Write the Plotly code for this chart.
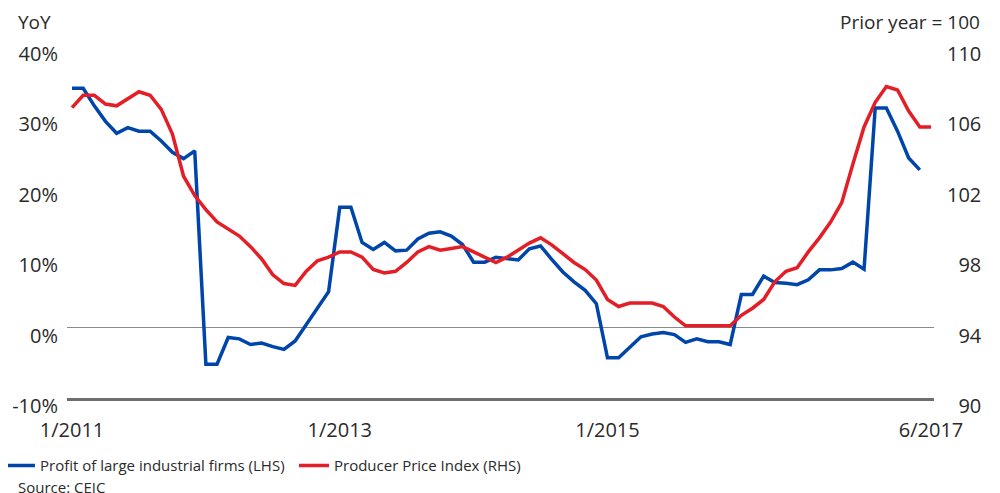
import plotly.graph_objects as go

# x categories: monthly, 1/2011 .. 6/2017
months = [f"{m}/{y}" for y in range(2011, 2018) for m in range(1, 13)][:78]

# Profit of large industrial firms, YoY % (LHS) -- ends 5/2017
profit = [34.0, 34.0, 31.5, 29.3, 27.6, 28.4, 27.9, 27.9, 26.5, 24.9, 24.0, 25.1,
          -5.2, -5.2, -1.4, -1.6, -2.4, -2.2, -2.7, -3.1, -1.9, 0.4, 2.9, 5.1,
          17.1, 17.1, 12.1, 11.1, 12.1, 10.9, 11.0, 12.6, 13.4, 13.6, 13.0, 11.8,
          9.3, 9.3, 10.0, 9.8, 9.6, 11.2, 11.6, 9.7, 7.9, 6.5, 5.3, 3.4,
          -4.3, -4.3, -2.8, -1.3, -0.9, -0.7, -1.0, -2.1, -1.6, -2.0, -2.0, -2.4,
          4.7, 4.7, 7.3, 6.4, 6.3, 6.1, 6.8, 8.2, 8.2, 8.4, 9.3, 8.3,
          31.2, 31.2, 27.9, 24.1, 22.4]

# Producer Price Index, prior year = 100 (RHS)
ppi = [106.5, 107.2, 107.2, 106.7, 106.6, 107.0, 107.4, 107.2, 106.4, 105.0, 102.6, 101.5,
       100.7, 100.0, 99.6, 99.2, 98.6, 97.9, 97.0, 96.5, 96.4, 97.2, 97.8, 98.0,
       98.3, 98.3, 98.0, 97.3, 97.1, 97.2, 97.7, 98.3, 98.6, 98.4, 98.5, 98.6,
       98.3, 98.0, 97.7, 98.0, 98.4, 98.8, 99.1, 98.7, 98.2, 97.7, 97.3, 96.7,
       95.6, 95.2, 95.4, 95.4, 95.4, 95.2, 94.6, 94.1, 94.1, 94.1, 94.1, 94.1,
       94.7, 95.1, 95.6, 96.6, 97.2, 97.4, 98.3, 99.1, 100.0, 101.1, 103.3, 105.4,
       106.8, 107.7, 107.5, 106.3, 105.4, 105.4]

x_tickvals = ["1/2011", "1/2013", "1/2015", "6/2017"]
left_ticks = [-10, 0, 10, 20, 30, 40]
left_text = ["-10%", "0%", "10%", "20%", "30%", "40%"]
right_ticks = [90, 94, 98, 102, 106, 110]
right_text = ["\u200790", "\u200794", "\u200798", "102", "106", "110"]

BLUE = "#0045aa"
RED = "#e41e26"
TXT = "#2a2a2a"
FONT = "Open Sans"

fig = go.Figure()
fig.add_trace(go.Scatter(x=months[:len(profit)], y=profit, mode="lines",
                         name="Profit of large industrial firms (LHS)",
                         line=dict(color=BLUE, width=3.5)))
fig.add_trace(go.Scatter(x=months, y=ppi, mode="lines", yaxis="y2",
                         name="Producer Price Index (RHS)",
                         line=dict(color=RED, width=3.5)))

# page body has an 8px default margin, so the figure is 8px smaller than the window
fig.update_layout(
    width=992, height=485,
    margin=dict(l=59, r=66, t=38, b=95, autoexpand=False),
    plot_bgcolor="white", paper_bgcolor="white",
    font=dict(family=FONT, size=19, color=TXT),
    showlegend=True,
    legend=dict(orientation="h", xref="paper", yref="paper",
                x=-0.0773, y=-0.1925, xanchor="left", yanchor="middle",
                font=dict(size=15, color=TXT), itemwidth=30,
                entrywidth=249, entrywidthmode="pixels", bgcolor="rgba(0,0,0,0)"),
    xaxis=dict(type="category", categoryorder="array", categoryarray=months,
               range=[-0.45, 77.27], tickmode="array", tickvals=x_tickvals,
               ticktext=x_tickvals, showgrid=False, zeroline=False,
               showline=True, linecolor="#6e6e6e", linewidth=2.5, automargin=False,
               ticks="", ticklabelstandoff=12, tickfont=dict(size=20, color=TXT)),
    yaxis=dict(range=[-10, 40], tickmode="array", tickvals=left_ticks,
               ticktext=left_text, showgrid=False, zeroline=True, automargin=False,
               zerolinecolor="#8a8a8a", zerolinewidth=1.3, showline=False,
               ticks="", ticklabelstandoff=8, ticklabelshift=8,
               tickfont=dict(size=20, color=TXT)),
    yaxis2=dict(range=[90, 110], overlaying="y", side="right", tickmode="array",
                tickvals=right_ticks, ticktext=right_text, showgrid=False,
                zeroline=False, showline=False, ticks="", automargin=False,
                ticklabelstandoff=12, ticklabelshift=8,
                tickfont=dict(size=20, color=TXT)),
    annotations=[
        dict(text="YoY", xref="paper", yref="paper", x=-0.0588, y=1.068,
             xanchor="left", yanchor="middle", showarrow=False,
             font=dict(size=19, color=TXT)),
        dict(text="Prior year = 100", xref="paper", yref="paper", x=1.0554, y=1.068,
             xanchor="right", yanchor="middle", showarrow=False,
             font=dict(size=19, color=TXT)),
        dict(text="Source: CEIC", xref="paper", yref="paper", x=-0.0588, y=-0.2528,
             xanchor="left", yanchor="middle", showarrow=False,
             font=dict(size=15, color=TXT)),
    ],
)

fig.write_html("out.html")
